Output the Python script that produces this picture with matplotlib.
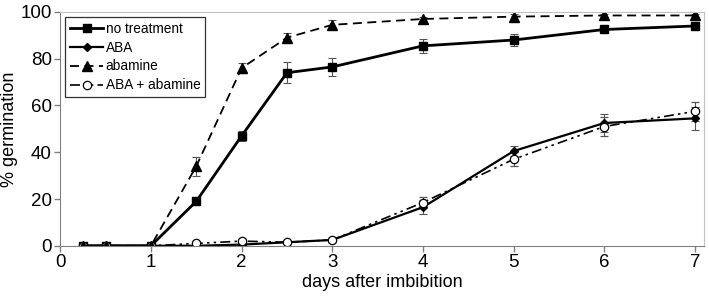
import matplotlib.pyplot as plt
import numpy as np

plt.rcParams['font.family'] = ['Liberation Sans', 'DejaVu Sans']

days = [0.25, 0.5, 1, 1.5, 2, 2.5, 3, 4, 5, 6, 7]

# --- series ---
no_treat     = [0, 0, 0, 19, 47, 74, 76.5, 85.5, 88, 92.5, 94]
no_treat_err = [0, 0, 0, 1, 2, 4.5, 4, 3, 2.5, 1, 1]
aba          = [0, 0, 0, 0, 0.5, 1.5, 2.5, 16.5, 40.5, 52.5, 54.5]
aba_err      = [0, 0, 0, 0, 0.5, 0.5, 1, 3, 2, 4, 5]
abamine      = [0, 0, 0, 34, 76, 89, 94.5, 97, 98, 98.5, 98.5]
abamine_err  = [0, 0, 0, 4, 2, 2, 2, 1, 1, 0.5, 0.5]
aba_abam     = [0, 0, 0, 1, 2, 1.5, 2.5, 18.5, 37, 51, 57.5]
aba_abam_err = [0, 0, 0, 0.5, 1, 0.5, 1, 2.5, 3, 4, 4]

labels = ["no treatment", "ABA", "abamine", "ABA + abamine"]

fig = plt.figure(figsize=(7.09, 2.99), dpi=100)
ax = fig.add_axes([0.085, 0.178, 0.908, 0.782])

eb = dict(ecolor="#555555", elinewidth=0.8, capsize=3, capthick=0.8)
ax.errorbar(days, no_treat, yerr=no_treat_err, color="k", lw=2, marker="s", ms=6,
            label=labels[0], **eb)
ax.errorbar(days, aba, yerr=aba_err, color="k", lw=1.6, marker="D", ms=4.5,
            label=labels[1], **eb)
ax.errorbar(days, aba_abam, yerr=aba_abam_err, color="k", lw=1.2,
            ls=(0, (6, 2.5, 1.5, 2.5, 1.5, 2.5)), marker="o", ms=6, mfc="white",
            mec="k", mew=0.9, label=labels[3], **eb)
ax.errorbar(days, abamine, yerr=abamine_err, color="k", lw=1.3, ls=(0, (5, 3)),
            marker="^", ms=6.5, label=labels[2], **eb)

ax.set_xlim(0, 7.1)
ax.set_ylim(0, 100)
ax.set_xticks(range(8))
ax.set_yticks(range(0, 101, 20))
ax.tick_params(labelsize=13.5, length=4, color="#808080", width=1, pad=2)
ax.set_xlabel("days after imbibition", fontsize=13, labelpad=2)
ax.set_ylabel("% germination", fontsize=13, labelpad=2)

for side in ("left", "bottom"):
    ax.spines[side].set_color("#808080")
for side in ("top", "right"):
    ax.spines[side].set_color("#c0c0c0")

handles, labs = ax.get_legend_handles_labels()
lookup = dict(zip(labs, [h[0] for h in handles]))
leg = ax.legend([lookup[l] for l in labels], labels, loc="upper left",
                bbox_to_anchor=(0.008, 0.979),
                fontsize=9.8, frameon=True, fancybox=False, handlelength=2.4,
                handletextpad=0.2, borderpad=0.35, labelspacing=0.36,
                borderaxespad=0)
leg.get_frame().set_edgecolor("k")
leg.get_frame().set_linewidth(0.9)

plt.savefig("out.png", dpi=100)
plt.close(fig)
